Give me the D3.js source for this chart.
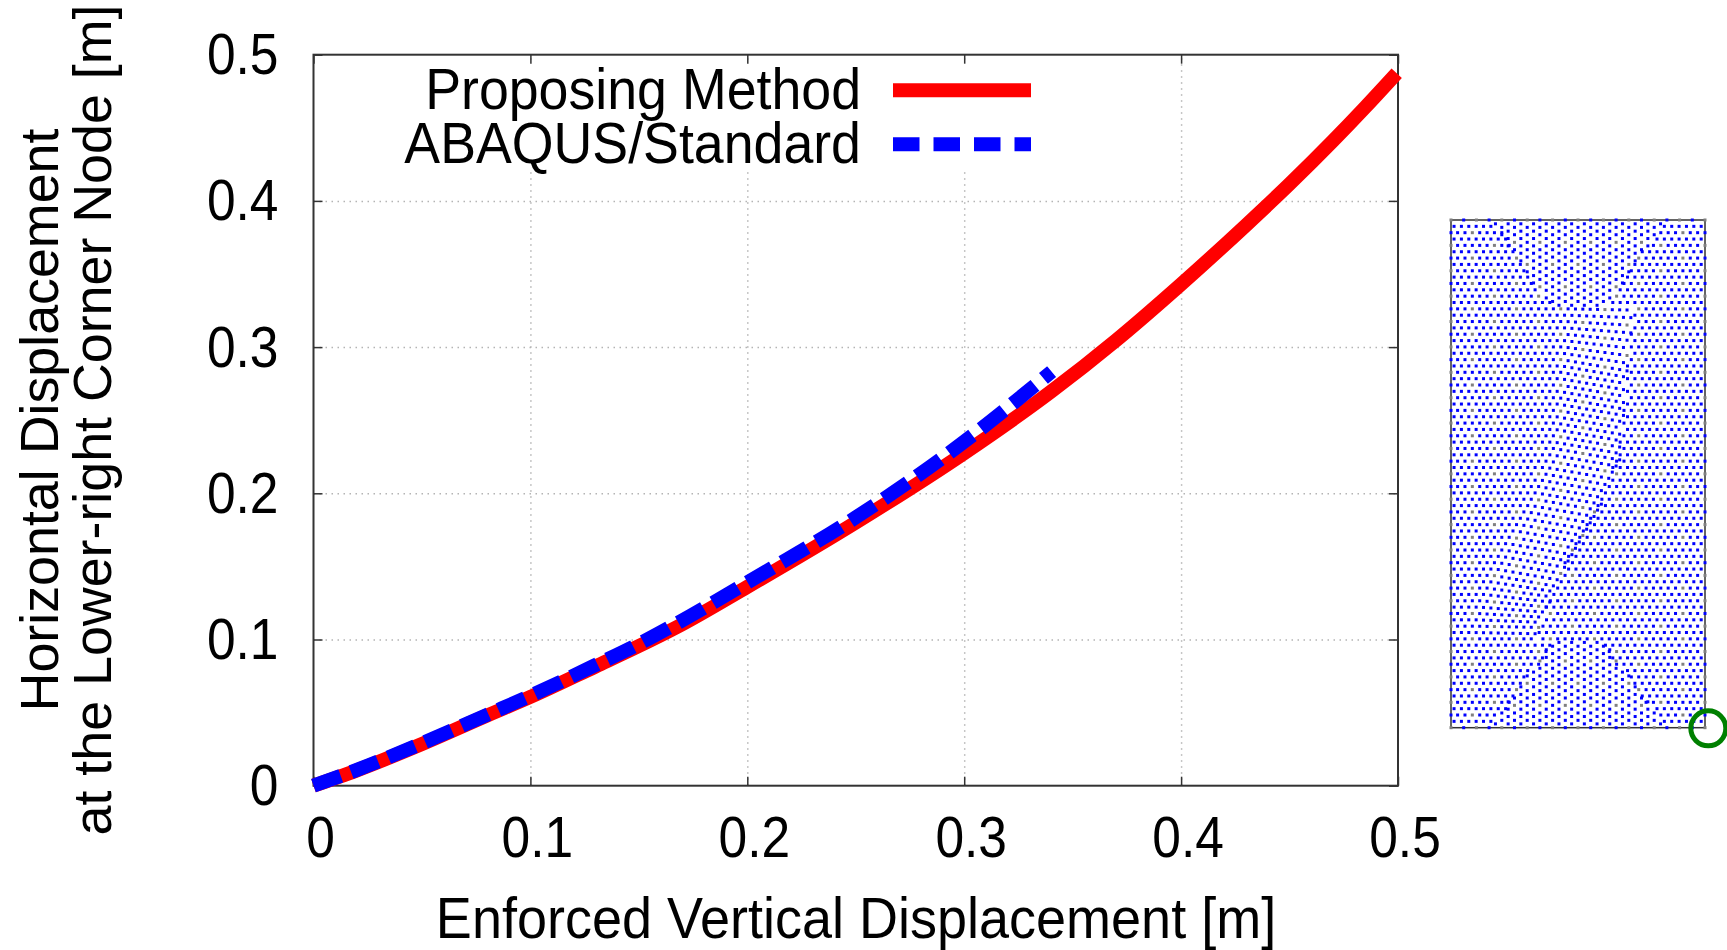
<!DOCTYPE html>
<html lang="en">
  <head>
    <meta charset="utf-8">
    <title>Horizontal displacement chart</title>
    <style>
      body { margin: 0; background: #fff; }
      svg { display: block; }
      text { font-family: "Liberation Sans", Arial, sans-serif; fill: #000; }
    </style>
    <script src="https://d3js.org/d3.v7.min.js"></script>
  </head>
  <body>
    <script>
      // curves
      const redX = [0, 0.02, 0.05, 0.08, 0.1, 0.13, 0.15, 0.1675, 0.2, 0.25, 0.3, 0.34, 0.37, 0.4, 0.43, 0.45, 0.47, 0.485, 0.4994];
      const redY = [0, 0.0105, 0.0285, 0.048, 0.0607, 0.0815, 0.0955, 0.1085, 0.136, 0.18, 0.2275, 0.2695, 0.3046, 0.343, 0.3835, 0.4115, 0.441, 0.4642, 0.4873];
      const blueX = [0, 0.02, 0.05, 0.08, 0.1, 0.13, 0.15, 0.1675, 0.2, 0.25, 0.3, 0.3403];
      const blueY = [0, 0.0108, 0.029, 0.0485, 0.0615, 0.0825, 0.097, 0.111, 0.139, 0.1835, 0.2353, 0.2832];

      const xTicks = [0, 0.1, 0.2, 0.3, 0.4, 0.5];
      const yTicks = [0, 0.1, 0.2, 0.3, 0.4, 0.5];
      const legendNames = ['Proposing Method', 'ABAQUS/Standard'];
      const yTitleLines = ['Horizontal Displacement', 'at the Lower-right Corner Node [m]'];
      const xTitle = 'Enforced Vertical Displacement [m]';

      // Inset mesh. Too many nodes to read one at a time, so this is an approximation:
      // the row structure below is estimated per row, the nodes sit on the measured lattice pitch.
      // mesh units are 0-1000 across, 0-2000 down. one entry per row, y = 25, 50, ... 1975
      const rowFault = [
        180, 200, 215, 230, 250, 265, 285, 300, 320, 335, 355, 370, 390,
        720, 718, 715, 712, 708, 705, 702, 700, 697, 695, 692, 690, 687, 684, 682, 680, 677, 675, 672, 670, 668, 666, 665,
        655, 645, 635, 625, 615, 605, 595, 590, 575, 560, 545, 530, 515, 500, 485, 470, 458, 447, 435, 425, 413, 402, 390,
        380, 372, 365, 358, 352, 346, 340,
        400, 385, 365, 350, 330, 310, 295, 275, 255, 235, 215, 195, 170];
      const rowDrop = [
        0, 0, 0, 0, 0, 0, 0, 0, 0, 0, 0, 0, 0,
        5, 10, 15, 20, 25, 30, 35, 40, 45, 45, 45, 45, 45, 45, 45, 45, 45, 45, 45, 45, 45, 45, 45,
        45, 45, 45, 45, 45, 45, 45, 45, 45, 45, 45, 45, 45, 45, 45, 45, 45, 45, 45, 45, 40, 35, 30,
        25, 20, 15, 10, 5, 5, 0,
        0, 0, 0, 0, 0, 0, 0, 0, 0, 0, 0, 0, 0];
      const rowRightStop = [
        820, 800, 785, 770, 750, 735, 715, 700, 680, 665, 645, 630, 610,
        720, 718, 715, 712, 708, 705, 702, 700, 697, 695, 692, 690, 687, 684, 682, 680, 677, 675, 672, 670, 668, 666, 665,
        655, 645, 635, 625, 615, 605, 595, 590, 575, 560, 545, 530, 515, 500, 485, 470, 458, 447, 435, 425, 413, 402, 390,
        380, 372, 365, 358, 352, 346, 340,
        600, 615, 635, 650, 670, 690, 705, 725, 745, 765, 785, 805, 830];

      // the wedges at top and bottom centre, where the lattice runs the other way
      const topWedgeY = [15, 29, 44, 58, 73, 88, 102, 117, 131, 146, 161, 175, 190, 204, 219, 234, 248, 263, 277, 292, 307, 321, 336];
      const topWedgeEdge = [170, 175, 185, 195, 205, 215, 225, 235, 245, 255, 265, 275, 285, 295, 305, 315, 325, 335, 345, 355, 365, 380, 400];
      const bottomWedgeY = [1985, 1971, 1956, 1942, 1927, 1912, 1898, 1883, 1869, 1854, 1839, 1825, 1810, 1796, 1781, 1766, 1752, 1737, 1723, 1708, 1693, 1679, 1664];
      const bottomWedgeEdge = [160, 170, 180, 195, 205, 215, 225, 235, 245, 255, 265, 275, 285, 295, 305, 315, 330, 340, 350, 365, 375, 390, 420];

      const rowPitch = 29, wedgePitch = 50, sagWidth = 260;

      const width = 1727, height = 950;
      const svg = d3.select('body').append('svg').attr('width', width).attr('height', height);

      const x = d3.scaleLinear().domain([0, 0.5]).range([313.5, 1398]);
      const y = d3.scaleLinear().domain([0, 0.5]).range([785.7, 54.7]);
      const meshX = d3.scaleLinear().domain([0, 1000]).range([1451, 1705]);
      const meshY = d3.scaleLinear().domain([0, 2000]).range([220, 727.7]);

      const fmt = d => d === 0 ? '0' : d.toFixed(1);

      // grid
      const gridStyle = g => {
        g.select('.domain').remove();
        g.selectAll('.tick text').remove();
        g.selectAll('.tick line').attr('stroke', '#b4b4b4').attr('stroke-width', 1.5).attr('stroke-dasharray', '1.5,4.5');
      };
      svg.append('g').attr('transform', `translate(0,${y(0)})`)
        .call(d3.axisBottom(x).tickValues(xTicks.slice(1, 5))).call(g => g.selectAll('.tick line').attr('y2', y(0.5) - y(0))).call(gridStyle);
      svg.append('g').attr('transform', `translate(${x(0)},0)`)
        .call(d3.axisLeft(y).tickValues(yTicks.slice(1, 5))).call(g => g.selectAll('.tick line').attr('x2', x(0.5) - x(0))).call(gridStyle);

      // legend sits on a white box that hides the grid
      svg.append('rect').attr('x', x(0) + 1).attr('y', y(0.5) + 9).attr('width', 728).attr('height', 108).attr('fill', '#fff');

      // ticks and frame
      const axisStyle = g => {
        g.select('.domain').remove();
        g.selectAll('.tick line').attr('stroke', '#333').attr('stroke-width', 1.5);
      };
      svg.append('g').attr('transform', `translate(0,${y(0)})`)
        .call(d3.axisBottom(x).tickValues(xTicks).tickSize(-9).tickPadding(0).tickFormat(fmt))
        .call(axisStyle)
        .call(g => g.selectAll('.tick text')
          .attr('y', null).attr('dy', null).attr('text-anchor', 'middle').attr('font-size', 51.5)
          .style('fill', '#000').style('font-family', '"Liberation Sans"')
          .attr('transform', 'translate(6.5,71.3) scale(1,1.107)'));
      svg.append('g').attr('transform', `translate(0,${y(0.5)})`)
        .call(d3.axisTop(x).tickValues(xTicks).tickSize(-9).tickFormat(''))
        .call(axisStyle);
      svg.append('g').attr('transform', `translate(${x(0)},0)`)
        .call(d3.axisLeft(y).tickValues(yTicks).tickSize(-9).tickFormat(fmt))
        .call(axisStyle)
        .call(g => g.selectAll('.tick text')
          .attr('x', null).attr('dy', null).attr('text-anchor', 'end').attr('font-size', 51.5)
          .style('fill', '#000').style('font-family', '"Liberation Sans"')
          .attr('transform', 'translate(-35,19) scale(1,1.107)'));
      svg.append('g').attr('transform', `translate(${x(0.5)},0)`)
        .call(d3.axisRight(y).tickValues(yTicks).tickSize(-9).tickFormat(''))
        .call(axisStyle);
      svg.append('rect').attr('x', x(0)).attr('y', y(0.5)).attr('width', x(0.5) - x(0)).attr('height', y(0) - y(0.5))
        .attr('fill', 'none').attr('stroke', '#333').attr('stroke-width', 2);

      // curves
      const line = d3.line().x(d => x(d[0])).y(d => y(d[1])).curve(d3.curveMonotoneX);
      const redPoints = redX.map((v, i) => [v, redY[i]]);
      const bluePoints = blueX.map((v, i) => [v, blueY[i]]);
      svg.append('path').datum(redPoints).attr('d', line).attr('fill', 'none')
        .attr('stroke', '#ff0000').attr('stroke-width', 14);
      svg.append('path').datum(bluePoints).attr('d', line).attr('fill', 'none')
        .attr('stroke', '#0000ff').attr('stroke-width', 14).attr('stroke-dasharray', '29,11');

      // legend
      const legendYs = [90.3, 144.3];
      const legendColors = ['#ff0000', '#0000ff'];
      legendNames.forEach((name, i) => {
        svg.append('text').text(name).attr('text-anchor', 'end').attr('font-size', 53.7)
          .attr('transform', `translate(861,${legendYs[i] + 18.7}) scale(1,1.06)`);
        svg.append('line').attr('x1', 893).attr('x2', 1031).attr('y1', legendYs[i]).attr('y2', legendYs[i])
          .attr('stroke', legendColors[i]).attr('stroke-width', 14)
          .attr('stroke-dasharray', i ? '26.5,14' : null);
      });

      // axis titles
      svg.append('text').text(xTitle).attr('text-anchor', 'middle').attr('font-size', 54)
        .attr('transform', 'translate(856,937.5) scale(1,1.055)');
      yTitleLines.forEach((t, i) => {
        svg.append('text').text(t).attr('text-anchor', 'middle').attr('font-size', 53)
          .attr('transform', `translate(${[58, 110.7][i]},420) rotate(-90) scale(1.015,1)`);
      });

      // inset mesh
      const nodes = [];
      rowFault.forEach((fault, k) => {
        const rowY = 25 * (k + 1);
        const even = rowY % 50 === 0;
        const greyAt = rowY % 100 === 50 ? 2 : 5;
        const drop = rowDrop[k];
        const sagAt = px => Math.max(0, Math.min(1, (px - (fault - sagWidth)) / sagWidth)) * drop;
        // left part of the row, sagging toward the fault
        let i = 0;
        for (let px = even ? 26 : 12; px <= fault; px += rowPitch, i++) {
          nodes.push({ x: px, y: rowY + sagAt(px), grey: even && (i - greyAt) % 6 === 0 });
        }
        // right part, counted from the right edge
        i = 0;
        for (let px = even ? 971 : 985; px >= rowRightStop[k]; px -= rowPitch, i++) {
          nodes.push({ x: px, y: rowY, grey: even && (i - greyAt) % 6 === 0 });
        }
      });
      const addWedge = (ys, edges) => ys.forEach((wy, r) => {
        const first = r % 2 ? 50 : 25;
        let i = 0;
        for (let px = first; px < 1000; px += wedgePitch) {
          if (px < edges[r] || px > 1000 - edges[r]) continue;
          nodes.push({ x: px, y: wy, grey: r % 6 === 5 && i % 2 === 0 });
          i++;
        }
      });
      addWedge(topWedgeY, topWedgeEdge);
      addWedge(bottomWedgeY, bottomWedgeEdge);

      // boundary nodes alternate grey and blue
      const boundary = [];
      d3.range(0, 1001, 50).forEach((v, i) => {
        boundary.push({ x: v, y: 0, grey: i % 2 === 0 }, { x: v, y: 2000, grey: i % 2 === 0 });
      });
      d3.range(50, 2000, 50).forEach((v, i) => {
        boundary.push({ x: 0, y: v, grey: i % 2 === 1 }, { x: 1000, y: v, grey: i % 2 === 1 });
      });

      svg.append('rect').attr('x', meshX(0)).attr('y', meshY(0)).attr('width', meshX(1000) - meshX(0)).attr('height', meshY(2000) - meshY(0))
        .attr('fill', 'none').attr('stroke', '#333').attr('stroke-width', 1.5);
      svg.append('g').selectAll('rect').data(nodes.concat(boundary)).join('rect')
        .attr('x', d => meshX(d.x) - 1.5).attr('y', d => meshY(d.y) - 1.5)
        .attr('width', 3).attr('height', 3)
        .attr('fill', d => d.grey ? '#808080' : '#0000ff');

      // marks the lower-right corner node
      svg.append('circle').attr('cx', 1708.3).attr('cy', 728.3).attr('r', 17.5)
        .attr('fill', 'none').attr('stroke', '#008000').attr('stroke-width', 5);
    </script>
  </body>
</html>
